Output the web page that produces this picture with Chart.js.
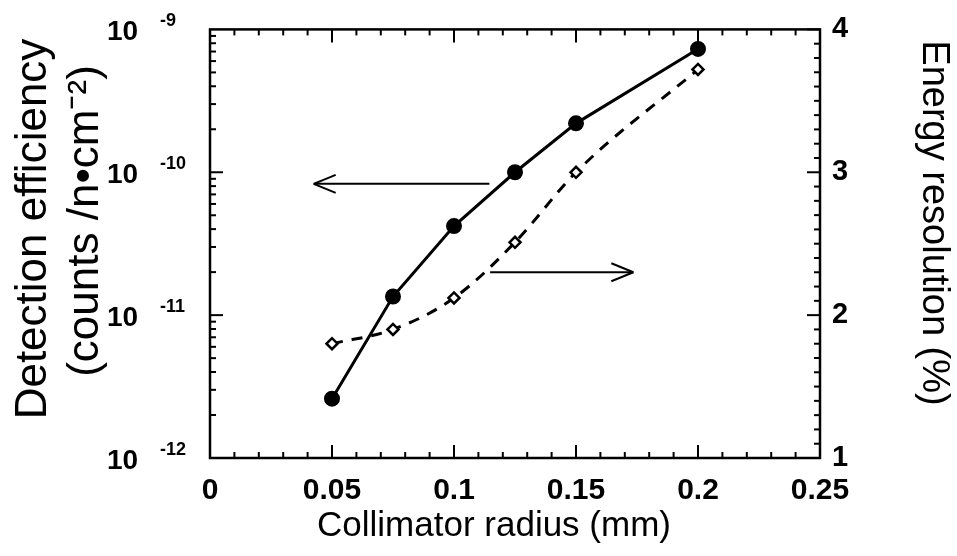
<!DOCTYPE html>
<html>
<head>
<meta charset="utf-8">
<script src="https://cdn.jsdelivr.net/npm/chart.js@4.4.0/dist/chart.umd.min.js"></script>
<style>
  body { margin: 0; background: #fff; }
  #wrap { width: 957px; height: 556px; }
</style>
</head>
<body>
<div id="wrap"><canvas id="grafik"></canvas></div>
<script>
// data
const radius = [0.05, 0.075, 0.1, 0.125, 0.15, 0.2];
const efficiency = [2.6e-12, 1.35e-11, 4.2e-11, 1.0e-10, 2.2e-10, 7.3e-10];
const resolution = [1.80, 1.90, 2.12, 2.51, 3.00, 3.72];
const radiusTicks = [0, 0.05, 0.1, 0.15, 0.2, 0.25];
const effExponents = [-12, -11, -10, -9];
const resTicks = [1, 2, 3, 4];

// arrows pointing at the axis each curve belongs to
const arrowEff = { x1: 0.1145, x2: 0.0425, y: 8.3e-11 };
const arrowRes = { x1: 0.1148, x2: 0.1735, y: 2.30 };

const FONT = '"Liberation Sans", Arial, sans-serif';

function line(ctx, x1, y1, x2, y2) {
    ctx.beginPath();
    ctx.moveTo(x1, y1);
    ctx.lineTo(x2, y2);
    ctx.stroke();
}

function arrow(ctx, x1, x2, y) {
    line(ctx, x1, y, x2, y);
    const dir = x2 < x1 ? 1 : -1;
    line(ctx, x2, y, x2 + dir * 22, y - 9);
    line(ctx, x2, y, x2 + dir * 22, y + 9);
}

function rotatedText(ctx, text, x, y, angle) {
    ctx.save();
    ctx.translate(x, y);
    ctx.rotate(angle);
    ctx.fillText(text, 0, 0);
    ctx.restore();
}

const framePlugin = {
    id: 'frame',
    afterDatasetsDraw(chart) {
        const ctx = chart.ctx;
        const { left, right, top, bottom } = chart.chartArea;
        const x = chart.scales.x, y = chart.scales.y, y2 = chart.scales.y2;
        ctx.save();
        ctx.strokeStyle = '#000';
        ctx.lineWidth = 2;

        // inward tick marks, top and bottom
        for (let i = 0; i <= 25; i++) {
            const px = x.getPixelForValue(i / 100);
            const len = i % 5 === 0 ? 13 : 6;
            line(ctx, px, bottom, px, bottom - len);
            line(ctx, px, top, px, top + len);
        }
        // left log axis
        effExponents.slice(0, -1).forEach(e => {
            for (let m = 1; m < 10; m++) {
                const py = y.getPixelForValue(m * Math.pow(10, e));
                line(ctx, left, py, left + (m === 1 ? 13 : 6), py);
            }
        });
        // right linear axis
        for (let i = 10; i <= 40; i++) {
            const py = y2.getPixelForValue(i / 10);
            line(ctx, right, py, right - (i % 10 === 0 ? 13 : 6), py);
        }

        ctx.lineWidth = 2.5;
        ctx.strokeRect(left, top, right - left, bottom - top);

        // arrows
        ctx.lineWidth = 2;
        arrow(ctx, x.getPixelForValue(arrowEff.x1), x.getPixelForValue(arrowEff.x2), y.getPixelForValue(arrowEff.y));
        arrow(ctx, x.getPixelForValue(arrowRes.x1), x.getPixelForValue(arrowRes.x2), y2.getPixelForValue(arrowRes.y));

        // left tick labels: 10 with raised exponent
        ctx.fillStyle = '#000';
        ctx.textBaseline = 'middle';
        ctx.textAlign = 'left';
        effExponents.forEach(e => {
            const py = y.getPixelForValue(Math.pow(10, e));
            ctx.font = 'bold 28px ' + FONT;
            ctx.fillText('10', 107, py + 3);
            ctx.font = 'bold 18px ' + FONT;
            ctx.fillText(String(e), 160, py - 8);
        });

        // axis titles
        ctx.textAlign = 'center';
        ctx.font = '35px ' + FONT;
        ctx.fillText('Collimator radius (mm)', 494, 526);
        ctx.font = '44px ' + FONT;
        rotatedText(ctx, 'Detection efficiency', 34, 229, -Math.PI / 2);
        rotatedText(ctx, '(counts /n\u2022cm\u207B\u00B2)', 86, 221, -Math.PI / 2);
        ctx.font = '38px ' + FONT;
        rotatedText(ctx, 'Energy resolution (%)', 933, 223, Math.PI / 2);
        ctx.restore();
    }
};

new Chart(document.getElementById('grafik'), {
    type: 'line',
    data: {
        datasets: [{
            label: 'Detection efficiency',
            data: radius.map((r, i) => ({ x: r, y: efficiency[i] })),
            yAxisID: 'y',
            borderColor: '#000',
            backgroundColor: '#000',
            borderWidth: 3,
            pointRadius: 6.5,
            pointStyle: 'circle',
            pointBackgroundColor: '#000',
            tension: 0
        }, {
            label: 'Energy resolution',
            data: radius.map((r, i) => ({ x: r, y: resolution[i] })),
            yAxisID: 'y2',
            borderColor: '#000',
            borderWidth: 3,
            borderDash: [11, 9],
            cubicInterpolationMode: 'monotone',
            pointStyle: 'rectRot',
            pointRadius: 5.5,
            pointBorderWidth: 2.5,
            pointBackgroundColor: '#fff',
            pointBorderColor: '#000'
        }]
    },
    options: {
        responsive: true,
        maintainAspectRatio: false,
        animation: false,
        layout: { padding: { top: 28, left: 0, right: 0, bottom: 0 } },
        plugins: { legend: { display: false }, tooltip: { enabled: false } },
        scales: {
            x: {
                type: 'linear',
                min: 0,
                max: 0.25,
                afterBuildTicks: s => { s.ticks = radiusTicks.map(v => ({ value: v })); },
                afterFit: s => { s.height = 98; },
                grid: { display: false, drawTicks: false },
                border: { display: false },
                ticks: {
                    color: '#000',
                    padding: 15,
                    maxRotation: 0,
                    font: { family: FONT, size: 30, weight: 'bold' },
                    callback: v => String(Math.round(v * 100) / 100)
                }
            },
            y: {
                type: 'logarithmic',
                position: 'left',
                min: 1e-12,
                max: 1e-9,
                afterFit: s => { s.width = 210; },
                grid: { display: false, drawTicks: false },
                border: { display: false },
                ticks: { display: false }
            },
            y2: {
                type: 'linear',
                position: 'right',
                min: 1,
                max: 4,
                afterBuildTicks: s => { s.ticks = resTicks.map(v => ({ value: v })); },
                afterFit: s => { s.width = 137; },
                grid: { display: false, drawTicks: false },
                border: { display: false },
                ticks: {
                    color: '#000',
                    padding: 12,
                    font: { family: FONT, size: 29, weight: 'bold' }
                }
            }
        }
    },
    plugins: [framePlugin]
});
</script>
</body>
</html>
